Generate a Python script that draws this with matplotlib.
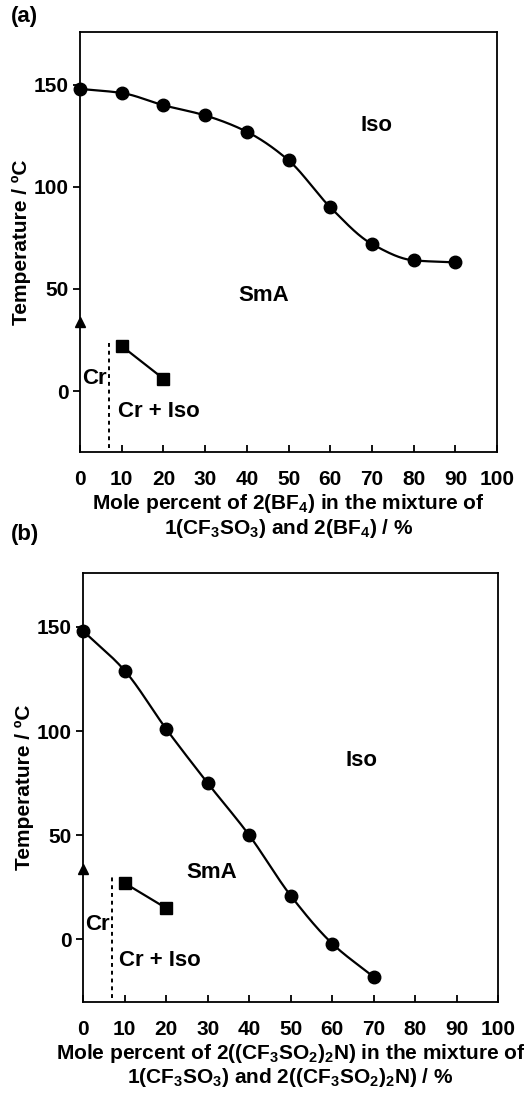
import numpy as np
import matplotlib
matplotlib.use('Agg')
import matplotlib.pyplot as plt

plt.rcParams['font.family'] = ['Liberation Sans', 'DejaVu Sans']
plt.rcParams['font.weight'] = 'bold'
plt.rcParams['mathtext.fontset'] = 'custom'
plt.rcParams['mathtext.rm'] = 'Liberation Sans:bold'
plt.rcParams['mathtext.it'] = 'Liberation Sans:bold'
plt.rcParams['mathtext.bf'] = 'Liberation Sans:bold'

# ---- data (a): 1(CF3SO3) + 2(BF4)
a_x = [0, 10, 20, 30, 40, 50, 60, 70, 80, 90]
a_iso = [148, 146, 140, 135, 127, 113, 90, 72, 64, 63]
a_cr_x = [10, 20]
a_cr = [22, 6]
a_tri_x = [0]
a_tri = [34]

# ---- data (b): 1(CF3SO3) + 2((CF3SO2)2N)
b_x = [0, 10, 20, 30, 40, 50, 60, 70]
b_iso = [148, 129, 101, 75, 50, 21, -2, -18]
b_cr_x = [10, 20]
b_cr = [27, 15]
b_tri_x = [0]
b_tri = [34]

x_ticks = [0, 10, 20, 30, 40, 50, 60, 70, 80, 90, 100]
y_ticks = [0, 50, 100, 150]

FS = 15


def smooth(x, y, n=40):
    # monotone cubic (Fritsch-Carlson) so the line has no overshoot
    x = np.asarray(x, float)
    y = np.asarray(y, float)
    h = np.diff(x)
    d = np.diff(y) / h
    m = np.zeros_like(y)
    m[0], m[-1] = d[0], d[-1]
    for i in range(1, len(x) - 1):
        if d[i - 1] * d[i] > 0:
            w1 = 2 * h[i] + h[i - 1]
            w2 = h[i] + 2 * h[i - 1]
            m[i] = (w1 + w2) / (w1 / d[i - 1] + w2 / d[i])
    xs, ys = [], []
    t = np.linspace(0, 1, n)
    for i in range(len(x) - 1):
        h00 = 2 * t ** 3 - 3 * t ** 2 + 1
        h10 = t ** 3 - 2 * t ** 2 + t
        h01 = -2 * t ** 3 + 3 * t ** 2
        h11 = t ** 3 - t ** 2
        xs.extend(x[i] + t * h[i])
        ys.extend(h00 * y[i] + h10 * h[i] * m[i] + h01 * y[i + 1] + h11 * h[i] * m[i + 1])
    return xs, ys


def panel(ax, x, iso, crx, cr, trx, tr, labels):
    sx, sy = smooth(x, iso)
    ax.plot(sx, sy, color='black', lw=1.6, clip_on=False)
    ax.plot(x, iso, 'o', color='black', ms=9, clip_on=False)
    cx, cy = smooth(crx, cr)
    ax.plot(cx, cy, color='black', lw=1.6)
    ax.plot(crx, cr, 's', color='black', ms=8.5)
    ax.plot(trx, tr, '^', color='black', ms=7, clip_on=False)
    ax.plot([7, 7], [-28, cr[0] + 3], color='black', lw=1.4, ls=(0, (2, 2)))
    for txt, xx, yy in labels:
        ax.text(xx, yy, txt, fontsize=16, fontweight='bold', ha='center', va='center')
    ax.set_xlim(0, 100)
    ax.set_ylim(-30, 176)
    ax.set_xticks(x_ticks)
    ax.set_yticks(y_ticks)
    ax.tick_params(axis='x', direction='in', length=5, width=1.3, pad=13, labelsize=FS)
    ax.tick_params(axis='y', direction='out', length=5, width=1.3, pad=3, labelsize=FS)
    for s in ax.spines.values():
        s.set_linewidth(1.3)
    ax.set_ylabel('Temperature / ºC', fontsize=FS, fontweight='bold', labelpad=2)


fig = plt.figure(figsize=(5.3, 10.95), dpi=100)

ax1 = fig.add_axes([0.151, 0.587, 0.787, 0.384])
panel(ax1, a_x, a_iso, a_cr_x, a_cr, a_tri_x, a_tri,
      [('Iso', 71, 130), ('SmA', 44, 47), ('Cr', 3.4, 6), ('Cr + Iso', 19, -10)])
ax1.set_xlabel('Mole percent of 2(BF$_4$) in the mixture of\n1(CF$_3$SO$_3$) and 2(BF$_4$) / %',
               fontsize=FS, fontweight='bold', labelpad=2, linespacing=1.1)

ax2 = fig.add_axes([0.157, 0.085, 0.783, 0.392])
panel(ax2, b_x, b_iso, b_cr_x, b_cr, b_tri_x, b_tri,
      [('Iso', 67, 86), ('SmA', 31, 32), ('Cr', 3.4, 7), ('Cr + Iso', 18.5, -10)])
ax2.set_xlabel('Mole percent of 2((CF$_3$SO$_2$)$_2$N) in the mixture of\n'
               '1(CF$_3$SO$_3$) and 2((CF$_3$SO$_2$)$_2$N) / %',
               fontsize=FS, fontweight='bold', labelpad=2, linespacing=1.1)

fig.text(0.02, 0.985, '(a)', fontsize=16, fontweight='bold', va='center')
fig.text(0.02, 0.512, '(b)', fontsize=16, fontweight='bold', va='center')

fig.savefig('out.png', dpi=100)
